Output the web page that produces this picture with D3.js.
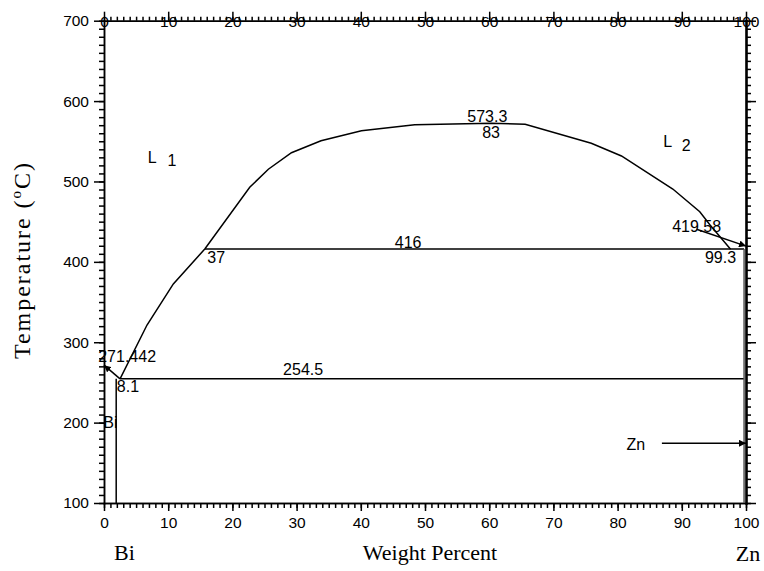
<!DOCTYPE html>
<html>
<head>
<meta charset="utf-8">
<script src="https://cdn.jsdelivr.net/npm/d3@7"></script>
<style>
  body { margin: 0; background: #fff; }
  svg text { fill: #000; }
  .lbl { font-family: "Liberation Sans", Arial, sans-serif; font-size: 16px; }
  .ttl { font-family: "Liberation Serif", "Times New Roman", serif; font-size: 22px; }
  .tick text { font-family: "Liberation Sans", Arial, sans-serif; font-size: 15.5px; }
</style>
</head>
<body>
<div id="chart"></div>
<script>
// phase boundaries, [wt% Zn, temperature C]
var biLiquidus   = [[0, 271.442], [2.5, 254.5]];
var l1Liquidus   = [[2.5, 254.5], [6.7, 321.4], [10.8, 372.5], [15.7, 416]];
var miscDome     = [[15.7, 416], [22.7, 492.8], [25.6, 515.2], [29.2, 535.8], [33.8, 550.7],
                    [40.1, 563.2], [48.4, 570.6], [60.3, 572.3], [65.6, 571.2], [75.9, 547.5],
                    [80.6, 531.7], [88.6, 490.6], [92.8, 462.4], [94.4, 445.9], [97.6, 415.6]];
var monotectic   = [[15.7, 416], [99.7, 416]];
var eutectic     = [[2.5, 254.5], [99.7, 254.5]];
var biSolvus     = [[1.9, 254.5], [1.9, 100]];
var znSolvus     = [[99.7, 416], [99.7, 100]];
var arrows       = [[[92.3, 440.5], [100, 419.58]], [[86.9, 174.3], [100, 174.3]]];

var xMajor = d3.range(0, 101, 10);
var xMinor = d3.range(0, 101, 1);
var yMajor = d3.range(100, 701, 100);
var yMinor = d3.range(100, 701, 10);

// text labels: [text, wt%, temperature, anchor]
var labels = [
  ["573.3", 59.7, 573.6, "middle"],
  ["83", 60.3, 553.7, "middle"],
  ["416", 45.3, 417.2, "start"],
  ["37", 16.1, 398.6, "start"],
  ["254.5", 27.9, 259.2, "start"],
  ["419.58", 88.5, 437.5, "start"],
  ["99.3", 93.6, 398.2, "start"],
  ["271.442", -0.9, 275.8, "start"],
  ["8.1", 2.0, 238.5, "start"],
  ["Bi", -0.1, 192.9, "start"],
  ["Zn", 81.4, 165.9, "start"]
];
var phases = [["L", 6.8, 523, "1", 9.9, 519], ["L", 87.1, 542.5, "2", 90, 538.3]];

var W = 764, H = 571;
var margin = {top: 20.7, right: 18, bottom: 68, left: 104};

var svg = d3.select("#chart").append("svg")
    .attr("width", W).attr("height", H);

var x = d3.scaleLinear().domain([0, 100]).range([margin.left, W - margin.right]);
var y = d3.scaleLinear().domain([100, 700]).range([H - margin.bottom, margin.top]);

var line = d3.line().x(function(d) { return x(d[0]); }).y(function(d) { return y(d[1]); });

svg.append("defs").append("marker")
    .attr("id", "arr").attr("viewBox", "0 0 10 10")
    .attr("refX", 10).attr("refY", 5)
    .attr("markerWidth", 7).attr("markerHeight", 7)
    .attr("markerUnits", "userSpaceOnUse")
    .attr("orient", "auto")
  .append("path").attr("d", "M0,0L10,5L0,10z").attr("fill", "#000");

// axes
function styleAxis(g) {
  g.selectAll("path, line").attr("stroke", "#000").attr("stroke-width", 1.5);
}

svg.append("g").attr("transform", "translate(0," + y(100) + ")")
    .call(d3.axisBottom(x).tickValues(xMinor).tickSize(5).tickSizeOuter(0).tickFormat(""))
    .call(styleAxis);
svg.append("g").attr("transform", "translate(0," + y(100) + ")")
    .call(d3.axisBottom(x).tickValues(xMajor).tickSize(8).tickSizeOuter(0).tickPadding(6))
    .call(styleAxis);

svg.append("g").attr("transform", "translate(0," + y(700) + ")")
    .call(d3.axisTop(x).tickValues(xMinor).tickSize(4).tickSizeOuter(0).tickFormat(""))
    .call(styleAxis);
var topAx = svg.append("g").attr("transform", "translate(0," + y(700) + ")")
    .call(d3.axisTop(x).tickValues(xMajor).tickSize(9).tickSizeOuter(0))
    .call(styleAxis);
topAx.selectAll("text").attr("y", 6.5).attr("dy", 0);

svg.append("g").attr("transform", "translate(" + x(0) + ",0)")
    .call(d3.axisLeft(y).tickValues(yMinor).tickSize(5).tickSizeOuter(0).tickFormat(""))
    .call(styleAxis);
svg.append("g").attr("transform", "translate(" + x(0) + ",0)")
    .call(d3.axisLeft(y).tickValues(yMajor).tickSize(10).tickSizeOuter(0).tickPadding(5))
    .call(styleAxis);

svg.append("g").attr("transform", "translate(" + x(100) + ",0)")
    .call(d3.axisRight(y).tickValues(yMinor).tickSize(5).tickSizeOuter(0).tickFormat(""))
    .call(styleAxis);
svg.append("g").attr("transform", "translate(" + x(100) + ",0)")
    .call(d3.axisRight(y).tickValues(yMajor).tickSize(10).tickSizeOuter(0).tickFormat(""))
    .call(function(g) { styleAxis(g); g.select(".domain").attr("stroke-width", 2.5); });

svg.selectAll(".domain").attr("stroke-linecap", "square");

// phase boundaries
var curves = [biLiquidus, l1Liquidus, miscDome, monotectic, eutectic, biSolvus];
svg.append("g").selectAll("path").data(curves).enter().append("path")
    .attr("d", line).attr("fill", "none")
    .attr("stroke", "#000").attr("stroke-width", 1.5);

svg.append("path").attr("d", line(znSolvus)).attr("fill", "none")
    .attr("stroke", "#555").attr("stroke-width", 1.5);

svg.append("path").attr("d", line(biLiquidus.slice().reverse())).attr("fill", "none")
    .attr("stroke", "none").attr("marker-end", "url(#arr)");

svg.append("g").selectAll("path").data(arrows).enter().append("path")
    .attr("d", line).attr("fill", "none")
    .attr("stroke", "#000").attr("stroke-width", 1.5)
    .attr("marker-end", "url(#arr)");

// labels
svg.append("g").selectAll("text").data(labels).enter().append("text")
    .attr("class", "lbl")
    .attr("x", function(d) { return x(d[1]); })
    .attr("y", function(d) { return y(d[2]); })
    .attr("text-anchor", function(d) { return d[3]; })
    .text(function(d) { return d[0]; });

var ph = svg.append("g").selectAll("g").data(phases).enter().append("g");
ph.append("text").attr("class", "lbl")
    .attr("x", function(d) { return x(d[1]); }).attr("y", function(d) { return y(d[2]); })
    .text(function(d) { return d[0]; });
ph.append("text").attr("class", "lbl")
    .attr("x", function(d) { return x(d[4]); }).attr("y", function(d) { return y(d[5]); })
    .text(function(d) { return d[3]; });

// titles
svg.append("text").attr("class", "ttl")
    .attr("x", (x(0) + x(100)) / 2 + 5).attr("y", 560)
    .attr("text-anchor", "middle").text("Weight Percent");
svg.append("text").attr("class", "ttl")
    .attr("x", 124.5).attr("y", 560).attr("text-anchor", "middle").text("Bi");
svg.append("text").attr("class", "ttl")
    .attr("x", 748).attr("y", 561).attr("text-anchor", "middle").text("Zn");

var yt = svg.append("text").attr("class", "ttl")
    .attr("transform", "translate(30,261) rotate(-90)")
    .attr("text-anchor", "middle")
    .style("font-size", "24px")
    .attr("textLength", 196).attr("lengthAdjust", "spacing");
yt.append("tspan").text("Temperature (");
yt.append("tspan").attr("font-size", "15px").attr("dy", -9).text("o");
yt.append("tspan").attr("dy", 9).text("C)");
</script>
</body>
</html>
